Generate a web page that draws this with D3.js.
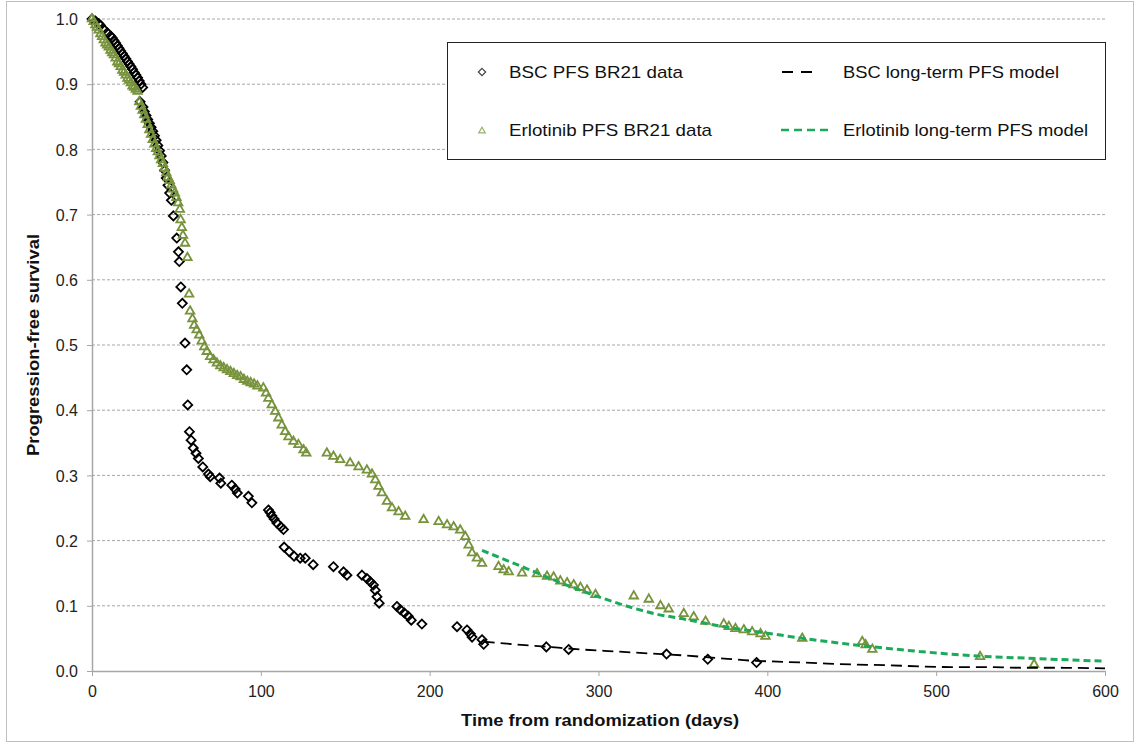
<!DOCTYPE html>
<html><head><meta charset="utf-8">
<script src="https://cdn.jsdelivr.net/npm/d3@7"></script>
<style>body{margin:0;background:#fff}svg{display:block}text{font-family:"Liberation Sans",Arial,sans-serif}</style>
</head><body><svg id="c" width="1136" height="744"></svg>
<script>
// ---- data ----
const bscDays = [0,2,4,5,7,9,11,12,13,14,15,16,17,18,19,20,21,22,23,24,25,26,27,28,29,30,
 28.5,30.2,31,32,33,34,35,36,37,38,39,40,41,42,43,44,45,46,47,48.2,50.2,51.2,51.7,52.6,53.5,55.1,56.1,56.7,57.7,58.7,60,61.6,63,65.6,69,70,75.5,76.3,82.8,84.8,86.1,92.6,94.7,
 104.5,105.5,106.5,107.9,109.5,111.9,113.4,113.8,116.8,119.7,123.3,126.3,131,143,149,151,159.9,162.8,164.8,166.7,167.8,168.8,170.1,180.6,182.6,185,187.3,189.1,195.4,
 216.2,222.1,224.1,225.1,231,232,269.1,282.3,340.3,364.7,393.6];
const bscSurv = [1.000,0.997,0.993,0.990,0.984,0.979,0.974,0.971,0.967,0.963,0.959,0.955,0.951,0.947,0.943,0.939,0.935,0.931,0.927,0.923,0.918,0.914,0.910,0.905,0.900,0.895,
 0.873,0.865,0.858,0.852,0.846,0.840,0.834,0.828,0.821,0.814,0.806,0.798,0.790,0.780,0.768,0.756,0.745,0.733,0.722,0.698,0.664,0.643,0.628,0.589,0.564,0.503,0.462,0.408,0.367,0.354,0.342,0.334,0.326,0.313,0.302,0.298,0.296,0.288,0.285,0.279,0.273,0.268,0.258,
 0.247,0.243,0.238,0.233,0.227,0.221,0.217,0.190,0.183,0.176,0.173,0.173,0.163,0.160,0.152,0.147,0.147,0.142,0.137,0.132,0.124,0.114,0.104,0.099,0.094,0.089,0.084,0.078,0.072,
 0.068,0.063,0.057,0.052,0.048,0.041,0.037,0.033,0.026,0.018,0.013];

const erlDays = [0,1,2,3,4,5,6,7,8,9,10,11,12,13,14,15,16,17,18,19,20,21,22,23,24,25,26,27,
 28,29,30,31,32,33,34,35,36,37,38,39,40,41,42,43,44,45,46,47,48,49,50,51,52,52.5,53.2,53.9,55.1,56.5,57.5,58.1,59.5,60.5,62,63.5,65,66.5,68,70,72,74,76,78,80,82,84,86,88,90,92,94,96,98,
 101.5,103.1,104.5,106.5,108.5,110.4,112.4,114.4,116.4,119.3,122.3,125.3,126.9,
 139.1,143,147,152.9,157.9,162.8,165.8,167.8,169.7,171.7,174.7,177.7,181.6,185.5,
 196.4,205.3,210.3,214.2,218.1,221.1,223.1,225.1,228,231,240.8,243.8,246.8,254.7,263.6,269.5,273.4,277.4,281.4,285.3,289.3,293.2,298.2,
 320.9,329.8,336.7,341.6,350.5,356.4,363.4,374.2,377.2,381.1,386.1,391,396,398.9,420.7,456.2,458.2,462.2,526,558];
const erlSurv = [1.000,0.996,0.991,0.987,0.983,0.977,0.973,0.968,0.963,0.960,0.957,0.952,0.948,0.945,0.940,0.934,0.931,0.927,0.921,0.918,0.914,0.909,0.906,0.902,0.897,0.895,0.892,0.889,
 0.873,0.866,0.860,0.853,0.846,0.838,0.830,0.823,0.815,0.808,0.801,0.796,0.790,0.784,0.778,0.771,0.764,0.757,0.752,0.745,0.739,0.733,0.726,0.718,0.708,0.692,0.680,0.668,0.656,0.634,0.578,0.552,0.540,0.530,0.523,0.515,0.506,0.497,0.490,0.482,0.477,0.472,0.468,0.465,0.462,0.459,0.456,0.453,0.451,0.447,0.444,0.442,0.440,0.437,
 0.434,0.426,0.418,0.408,0.398,0.388,0.377,0.367,0.359,0.352,0.347,0.339,0.334,
 0.334,0.329,0.324,0.319,0.313,0.308,0.302,0.293,0.283,0.273,0.260,0.250,0.244,0.237,
 0.232,0.229,0.224,0.221,0.216,0.206,0.193,0.181,0.173,0.165,0.160,0.155,0.152,0.150,0.149,0.145,0.144,0.138,0.135,0.132,0.128,0.124,0.117,
 0.115,0.110,0.100,0.095,0.088,0.083,0.076,0.072,0.068,0.065,0.063,0.060,0.057,0.053,0.050,0.045,0.040,0.033,0.022,0.010];

const bscModelDays = [232,250,270,290,310,330,350,370,390,410,430,450,470,490,510,530,550,570,600];
const bscModelSurv = [0.045,0.041,0.037,0.033,0.030,0.027,0.024,0.020,0.016,0.014,0.012,0.010,0.009,0.007,0.006,0.006,0.005,0.005,0.004];
const erlModelDays = [231,250,264,280,301,320,333,350,372,400,430,459,490,524,560,600];
const erlModelSurv = [0.185,0.165,0.150,0.133,0.113,0.097,0.088,0.080,0.069,0.058,0.047,0.038,0.030,0.023,0.019,0.015];

const xTicks = [0,100,200,300,400,500,600];
const yTicks = [0,0.1,0.2,0.3,0.4,0.5,0.6,0.7,0.8,0.9,1.0];
const legendLabels = ["BSC PFS BR21 data","Erlotinib PFS BR21 data","BSC long-term PFS model","Erlotinib long-term PFS model"];

// ---- drawing ----
const svg = d3.select("#c");
const green = "#77933C", lineGreen = "#1BAA5A";
svg.append("rect").attr("x",6.5).attr("y",1.5).attr("width",1127).attr("height",740)
  .attr("fill","#fff").attr("stroke","#bfbfbf");

const x = d3.scaleLinear().domain([0,600]).range([92,1105]);
const y = d3.scaleLinear().domain([0,1]).range([671,19]);

// gridlines
svg.append("g").selectAll("line").data(yTicks.filter(d=>d>0)).join("line")
  .attr("x1",x(0)).attr("x2",x(600)).attr("y1",d=>y(d)).attr("y2",d=>y(d))
  .attr("stroke","#a6a6a6").attr("stroke-dasharray","3,2").attr("stroke-width",1);

const xAxis = svg.append("g").attr("transform",`translate(0,${y(0)})`)
  .call(d3.axisBottom(x).tickValues(xTicks).tickFormat(d3.format("d")).tickSize(5).tickSizeOuter(0));
const yAxis = svg.append("g").attr("transform",`translate(${x(0)},0)`)
  .call(d3.axisLeft(y).tickValues(yTicks).tickFormat(d3.format(".1f")).tickSize(5).tickSizeOuter(0));
[xAxis,yAxis].forEach(a=>{
  a.select(".domain").attr("stroke","#a6a6a6").attr("stroke-width",1.5);
  a.selectAll(".tick line").attr("stroke","#a6a6a6");
  a.selectAll("text").attr("font-size",16).attr("fill","#222").attr("font-family","Liberation Sans, Arial, sans-serif");
});
xAxis.selectAll("text").attr("y",15).attr("dy","0.71em");
yAxis.selectAll("text").attr("x",-14).attr("dy","0.35em");

// markers
const diamond = d3.symbol().type(d3.symbolDiamond2).size(52);
const tri = d3.symbol().type(d3.symbolTriangle2).size(52);
svg.append("g").selectAll("path").data(bscDays.map((d,i)=>[d,bscSurv[i]])).join("path")
  .attr("d",diamond).attr("transform",d=>`translate(${x(d[0])},${y(d[1])})`)
  .attr("fill","none").attr("stroke","#000").attr("stroke-width",1.8);
svg.append("g").selectAll("path").data(erlDays.map((d,i)=>[d,erlSurv[i]])).join("path")
  .attr("d",tri).attr("transform",d=>`translate(${x(d[0])},${y(d[1])})`)
  .attr("fill","none").attr("stroke",green).attr("stroke-width",1.8);

// model lines
const line = d3.line().x(d=>x(d[0])).y(d=>y(d[1])).curve(d3.curveMonotoneX);
svg.append("path").datum(bscModelDays.map((d,i)=>[d,bscModelSurv[i]])).attr("d",line)
  .attr("fill","none").attr("stroke","#000").attr("stroke-width",1.8).attr("stroke-dasharray","11,6");
svg.append("path").datum(erlModelDays.map((d,i)=>[d,erlModelSurv[i]])).attr("d",line)
  .attr("fill","none").attr("stroke",lineGreen).attr("stroke-width",3).attr("stroke-dasharray","7,4");

// axis titles
svg.append("text").attr("x",600).attr("y",726).attr("text-anchor","middle")
  .attr("font-size",17).attr("font-weight","bold").attr("fill","#111")
  .attr("textLength",278).attr("lengthAdjust","spacingAndGlyphs").text("Time from randomization (days)");
svg.append("text").attr("transform","translate(39,345) rotate(-90)").attr("text-anchor","middle")
  .attr("font-size",17).attr("font-weight","bold").attr("fill","#111")
  .attr("textLength",222).attr("lengthAdjust","spacingAndGlyphs").text("Progression-free survival");

// legend
const lg = svg.append("g");
lg.append("rect").attr("x",447.5).attr("y",42.5).attr("width",658).attr("height",117)
  .attr("fill","#fff").attr("stroke","#222").attr("stroke-width",1);
lg.append("path").attr("d",d3.symbol().type(d3.symbolDiamond2).size(34))
  .attr("transform","translate(482,72)").attr("fill","none").attr("stroke","#444").attr("stroke-width",1.2);
lg.append("path").attr("d",d3.symbol().type(d3.symbolTriangle2).size(30))
  .attr("transform","translate(482,131)").attr("fill","none").attr("stroke","#9bb06a").attr("stroke-width",1.2);
lg.append("line").attr("x1",782).attr("x2",812).attr("y1",72).attr("y2",72)
  .attr("stroke","#000").attr("stroke-width",1.8).attr("stroke-dasharray","11,8");
lg.append("line").attr("x1",781).attr("x2",831).attr("y1",130).attr("y2",130)
  .attr("stroke",lineGreen).attr("stroke-width",2.5).attr("stroke-dasharray","8,5");
const lpos = [[509,72],[509,130],[843,72],[843,130]];
const lwid = [174,203,216,245];
lg.selectAll("text.l").data(legendLabels).join("text").attr("class","l")
  .attr("x",(d,i)=>lpos[i][0]).attr("y",(d,i)=>lpos[i][1]).attr("dy","0.35em")
  .attr("font-size",17).attr("fill","#111")
  .attr("textLength",(d,i)=>lwid[i]).attr("lengthAdjust","spacingAndGlyphs").text(d=>d);
</script></body></html>
